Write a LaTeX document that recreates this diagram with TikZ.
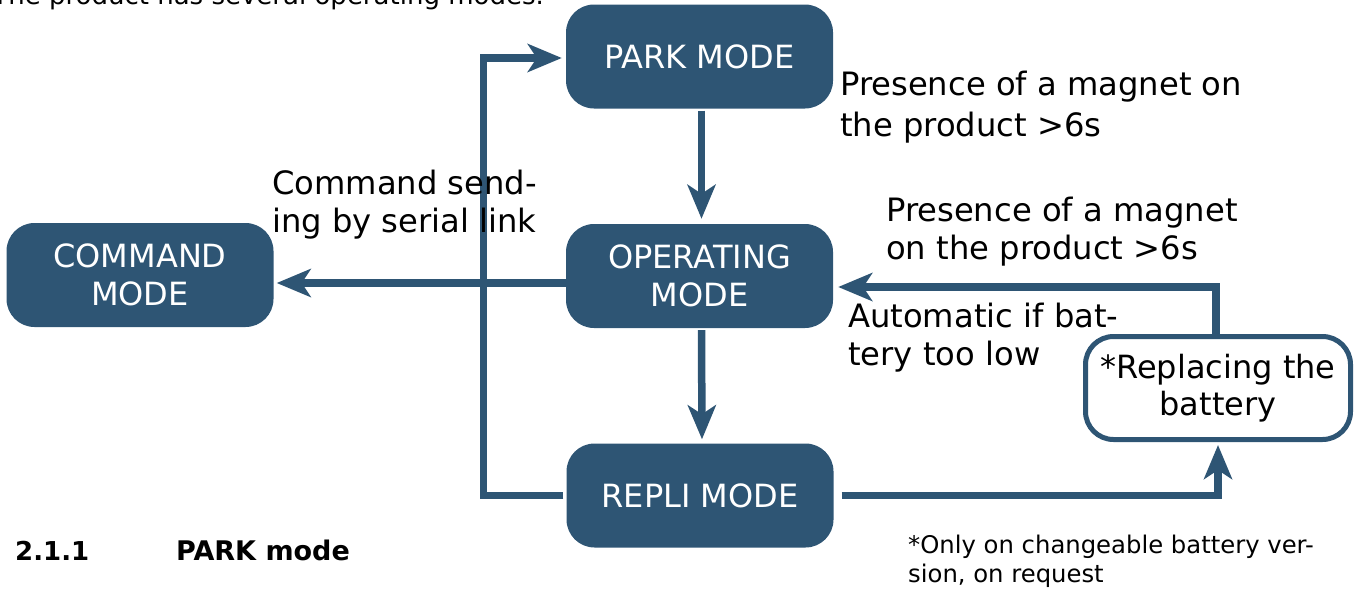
\documentclass[tikz,border=0pt]{standalone}
\usepackage{fontspec}
\setmainfont{DejaVu Sans}
\usetikzlibrary{arrows.meta}
\definecolor{boxblue}{RGB}{46,85,116}
\tikzset{
  modebox/.style={fill=boxblue, rounded corners=28pt, minimum width=267pt, minimum height=104pt,
    text=white, font=\fontsize{32}{38}\selectfont, align=center, inner sep=0pt},
  battbox/.style={draw=boxblue, line width=5pt, fill=white, rounded corners=28pt, minimum width=265pt,
    minimum height=103pt, font=\fontsize{32}{37}\selectfont, align=center, inner sep=0pt},
  arr/.style={draw=boxblue, line width=7.5pt, -{Stealth[length=34pt,width=28pt,inset=9pt]}},
  lbl/.style={font=\fontsize{32.2}{38}\selectfont, align=left, inner sep=0pt},
  small/.style={font=\fontsize{24.3}{29}\selectfont, align=left, inner sep=0pt},
}
\begin{document}
\begin{tikzpicture}[x=1pt,y=-1pt]
\useasboundingbox (0,0) rectangle (1356,589);
\node[font=\fontsize{26}{30}\selectfont, inner sep=0pt, anchor=base east] (intro) at (544,5) {The product has several operating modes.};

\node[modebox] (park) at (699.5,56.5) {PARK MODE};
\node[modebox] (oper) at (699.5,276) {OPERATING\\MODE};
\node[modebox] (repli) at (700,495.5) {REPLI MODE};
\node[modebox] (comm) at (140,275) {COMMAND\\MODE};
\node[battbox] (batt) at (1218,388) {*Replacing the\\battery};

\draw[arr, shorten <=2pt, shorten >=5pt] ([xshift=2pt]park.south) -- ([xshift=2pt]oper.north);
\draw[arr, shorten <=2pt, shorten >=4pt] ([xshift=2pt]oper.south) -- ([xshift=2pt]repli.north);
\draw[arr, shorten >=3pt] ([yshift=-7pt]oper.west) -- ([yshift=-7pt]oper.west -| comm.east);
\draw[arr, shorten <=3pt, shorten >=4pt] (repli.west) -- ++(-83,0) |- ([yshift=-1.5pt]park.west);
\draw[arr, shorten <=8pt, shorten >=3pt] (repli.east) -| (batt.south);
\draw[arr, shorten >=5pt] ([xshift=-2pt]batt.north) |- ([yshift=-11pt]oper.east);

\node[lbl, font=\fontsize{32.2}{41}\selectfont, anchor=north west] (l1) at (840,71) {Presence of a magnet on\\the product >6s};
\node[lbl, anchor=north west] (l2) at (272,170) {Command send-\\ing by serial link};
\node[lbl, anchor=north west] (l3) at (886,197) {Presence of a magnet\\on the product >6s};
\node[lbl, anchor=north west] (l4) at (848,303) {Automatic if bat-\\tery too low};
\node[small, anchor=north west] (l5) at (908,535) {*Only on changeable battery ver-\\sion, on request};
\node[anchor=base west, inner sep=0pt, font=\fontsize{26}{30}\selectfont\bfseries] (h1) at (15,560) {2.1.1};
\node[anchor=base west, inner sep=0pt, font=\fontsize{27}{30}\selectfont\bfseries] (h2) at (176,560) {PARK mode};
\end{tikzpicture}
\end{document}
